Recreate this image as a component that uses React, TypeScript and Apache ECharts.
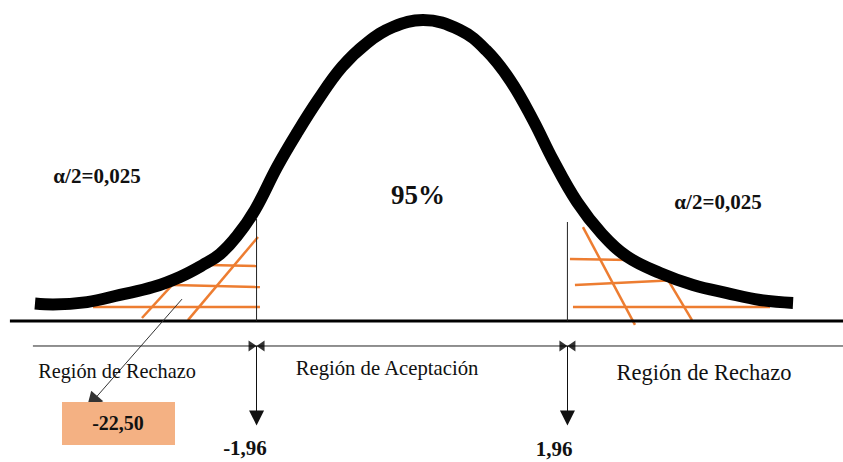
import React, { useEffect, useRef } from "react";
import * as echarts from "echarts";

// Bell curve: z (standard score) and relative height (peak ≈ 100)
const curveZ = [-4.754, -4.527, -4.098, -3.682, -3.266, -2.926, -2.636, -2.421, -2.207, -1.98, -1.702, -1.45, -1.185, -0.883, -0.567, -0.24, 0.139, 0.605, 0.933, 1.236, 1.526, 1.778, 2.081, 2.396, 2.711, 3.127, 3.544, 3.972, 4.388, 4.805];
const curveH = [5.8, 5.5, 6.3, 8.7, 11.3, 14.7, 18.7, 22.3, 28.3, 37.0, 51.3, 62.7, 73.7, 84.7, 92.7, 98.0, 100.3, 97.0, 90.3, 80.3, 67.0, 53.7, 39.7, 29.0, 21.5, 16.0, 12.0, 9.3, 7.0, 6.0];

// Critical values
const criticalZ = [-1.96, 1.96];
const criticalLabels = ["-1,96", "1,96"];

// Hatching in the rejection regions (segments: [z, height] pairs)
const leftHatch = [
  [[-4.023, 4.7], [-1.917, 4.7]],
  [[-3.014, 12.0], [-1.917, 11.3]],
  [[-2.573, 18.7], [-1.955, 18.3]],
  [[-3.405, 1.0], [-3.014, 12.3]],
  [[-2.825, 0.3], [-1.942, 28.0]],
];
const rightHatch = [
  [[1.992, 20.7], [2.749, 20.3]],
  [[2.055, 12.0], [3.354, 13.7]],
  [[2.03, 4.7], [4.514, 4.7]],
  [[2.156, 31.3], [2.812, -1.3]],
  [[3.228, 13.7], [3.531, 0.3]],
];

// Critical-value vertical markers (top heights)
const markerTops = [34, 33];

// Axis lines
const baseLine = [[-5.07, 0], [5.435, 0]];
const regionLineY = -8.33;
const regionLineStart = -4.78;
const arrowBottomY = -32.3;
const pointerArrow = [[-2.9, 7.3], [-4.035, -27.0]];

// Texts
const alphaLabel = "α/2=0,025";
const acceptPct = "95%";
const rejectLabel = "Región de Rechazo";
const acceptLabel = "Región de Aceptación";
const statValue = "-22,50";

const SERIF = "'Liberation Serif', 'Times New Roman', serif";

function txt(text: string, x: number, y: number, size: number, bold: boolean) {
  return {
    type: "text",
    x,
    y,
    z: 100,
    style: {
      text,
      fontSize: size,
      fontWeight: bold ? "bold" : "normal",
      fontFamily: SERIF,
      fill: "#111",
      align: "center",
      verticalAlign: "middle",
      textAlign: "center",
      textVerticalAlign: "middle",
    },
  };
}

export default function App() {
  const ref = useRef<HTMLDivElement>(null);
  useEffect(() => {
    if (!ref.current) return;
    const chart = echarts.init(ref.current, null, { renderer: "svg" });
    const hatchSeries = [...leftHatch, ...rightHatch].map((seg) => ({
      type: "line",
      data: seg,
      showSymbol: false,
      symbol: "none",
      clip: false,
      z: 2,
      lineStyle: { color: "#ED7D31", width: 2.5 },
    }));
    const option: any = {
      animation: false,
      backgroundColor: "#ffffff",
      grid: { left: 0, right: 0, top: 0, bottom: 0, containLabel: false },
      xAxis: { type: "value", min: -5.195, max: 5.435, show: false },
      yAxis: { type: "value", min: -47, max: 107, show: false },
      series: [
        ...hatchSeries,
        {
          type: "line",
          data: baseLine,
          symbol: "none",
          clip: false,
          z: 3,
          lineStyle: { color: "#000", width: 3 },
        },
        {
          type: "line",
          data: [[regionLineStart, regionLineY], [5.435, regionLineY]],
          symbol: "none",
          clip: false,
          z: 3,
          lineStyle: { color: "#222", width: 1 },
        },
        ...criticalZ.map((z, i) => ({
          type: "line",
          data: [[z, 0], [z, markerTops[i]]],
          symbol: "none",
          clip: false,
          z: 3,
          lineStyle: { color: "#222", width: 1 },
        })),
        {
          type: "lines",
          coordinateSystem: "cartesian2d",
          symbol: ["none", "triangle"],
          symbolSize: 15,
          z: 4,
          lineStyle: { color: "#111", width: 1, opacity: 1 },
          data: criticalZ.map((z) => ({ coords: [[z, regionLineY], [z, arrowBottomY]] })),
        },
        {
          type: "lines",
          coordinateSystem: "cartesian2d",
          symbol: ["none", "triangle"],
          symbolSize: 16,
          z: 4,
          lineStyle: { color: "#333", width: 1, opacity: 1 },
          data: [{ coords: pointerArrow }],
        },
        {
          type: "scatter",
          data: criticalZ.map((z) => [z, regionLineY]),
          symbol: "path://M0,0L6,5L0,10ZM12,0L6,5L12,10Z",
          symbolSize: [16, 11],
          z: 5,
          itemStyle: { color: "#000" },
        },
        {
          type: "line",
          data: curveZ.map((z, i) => [z, curveH[i]]),
          smooth: 0.4,
          symbol: "none",
          clip: false,
          z: 6,
          lineStyle: { color: "#000", width: 12, cap: "butt", join: "round" },
        },
      ],
      graphic: [
        {
          type: "rect",
          shape: { x: 62, y: 402, width: 113, height: 43 },
          style: { fill: "#F4B183" },
          z: 50,
        },
        txt(statValue, 118, 423, 20, true),
        txt(alphaLabel, 97, 176, 21, true),
        txt(alphaLabel, 718, 202, 21, true),
        txt(acceptPct, 418, 195, 27, true),
        txt(rejectLabel, 117, 371, 20.3, false),
        txt(acceptLabel, 387, 368, 20.7, false),
        txt(rejectLabel, 704, 372, 22.5, false),
        txt(criticalLabels[0], 245, 448, 21, true),
        txt(criticalLabels[1], 554, 449, 21, true),
      ],
    };
    chart.setOption(option);
    return () => chart.dispose();
  }, []);
  return (
    <div
      ref={ref}
      style={{ position: "fixed", left: 0, top: 0, width: 843, height: 462, background: "#fff" }}
    />
  );
}
